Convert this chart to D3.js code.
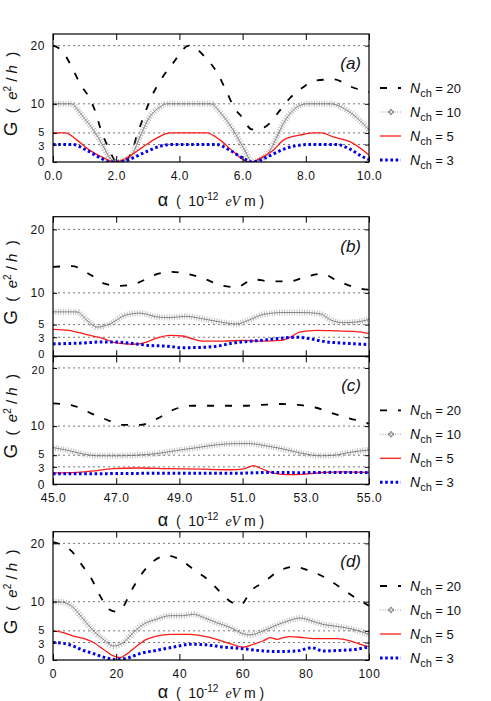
<!DOCTYPE html>
<html lang="en">
<head>
<meta charset="UTF-8">
<title>Conductance G versus alpha</title>
<script src="https://d3js.org/d3.v7.min.js"></script>
<style>
  body { margin: 0; background: #fff; }
  svg text { font-family: "Liberation Sans", Arial, sans-serif; fill: #111; white-space: pre; }
</style>
</head>
<body>
<div id="chart"></div>
<script>
// ---- data: [alpha, G] pairs per panel and per N_ch ----
const aN20 = [[0,20],[0.3,19],[0.55,16.8],[0.85,13.5],[1.2,10.5],[1.35,8.5],[1.5,5.8],[1.75,2.5],[2.0,0.2],[2.3,0.4],[2.5,1.8],[2.65,4.5],[2.85,7.5],[3.1,11],[3.4,14],[3.8,17],[4.3,20],[4.85,17.8],[5.2,15.3],[5.5,12],[5.75,9.2],[5.95,7.9],[6.3,5.6],[6.7,6],[7.2,9],[7.5,11],[7.9,12.8],[8.3,14],[8.9,14.2],[9.4,13],[10,12]];
const aN10 = [[0,10],[0.6,10],[0.75,9.2],[0.95,7.8],[1.28,5.5],[1.6,2.6],[1.8,0.7],[2.05,0],[2.3,0.3],[2.53,1.5],[2.75,4.3],[3.0,7.2],[3.4,9.5],[3.6,10],[5.0,10],[5.28,8.6],[5.7,5.5],[6.07,2],[6.3,0],[6.55,0.4],[6.87,2],[7.08,4.3],[7.3,6.7],[7.6,8.9],[8.03,10],[8.77,10],[9.3,8.9],[9.7,7.2],[10,5.5]];
const aN5 = [[0,5],[0.4,5],[0.75,3.8],[1.17,2],[1.6,0.7],[1.95,0],[2.33,0.7],[2.85,2.6],[3.28,4.1],[3.7,5],[4.86,5],[5.28,3.8],[5.7,1.8],[6.13,0.1],[6.3,0],[6.5,0.5],[6.97,2],[7.3,3.8],[7.8,4.6],[8.24,5],[8.5,5],[8.87,4.3],[9.4,3.5],[10,1.2]];
const aN3 = [[0,3],[0.63,3],[1.07,2],[1.5,0.7],[1.8,0],[2.1,0],[2.53,0.7],[2.96,1.8],[3.38,2.7],[3.7,3],[5.18,3],[5.6,2],[6.0,0.7],[6.3,0],[6.5,0.2],[6.87,1.1],[7.3,2.2],[7.7,2.8],[8.1,3],[8.98,3],[9.4,2.2],[9.8,0.9],[10,0.4]];

const bN20 = [[45,14.1],[45.6,14.2],[46.2,12.8],[46.6,11.5],[47.1,11.1],[47.7,11.6],[48.2,12.8],[48.75,13.3],[49.25,13.0],[49.8,12.2],[50.3,11.2],[50.8,10.9],[51.35,12.1],[51.9,11.8],[52.45,11.8],[53.0,12.5],[53.5,13.0],[54.0,11.9],[54.6,10.8],[55,10.5]];
const bN10 = [[45,7.0],[45.75,7.0],[46.07,5.7],[46.4,4.6],[46.8,5.1],[47.3,6.5],[47.75,6.8],[48.3,6.2],[48.7,6.1],[49.2,6.3],[49.75,5.9],[50.3,5.4],[50.8,5.1],[51.2,5.7],[51.65,6.6],[52.3,6.9],[52.9,6.9],[53.45,6.7],[53.8,5.7],[54.2,5.3],[54.6,5.4],[55,5.8]];
const bN5 = [[45,4.25],[45.5,4.1],[46.07,3.4],[46.6,2.8],[47.0,2.1],[47.55,1.9],[47.96,2.25],[48.3,2.9],[48.7,3.3],[49.1,3.2],[49.45,2.7],[49.75,2.4],[50.4,2.4],[51.0,2.5],[51.65,2.4],[52.2,2.5],[52.5,3.0],[52.8,3.8],[53.35,4.1],[54.0,4.0],[54.6,3.9],[55,3.6]];
const bN3 = [[45,1.95],[45.96,2.1],[46.5,2.25],[47.0,2.25],[47.55,2.0],[48.07,1.7],[48.6,1.6],[49.1,1.35],[49.65,1.4],[50.2,1.6],[50.7,2.1],[51.2,2.35],[51.75,2.6],[52.3,2.9],[52.7,3.0],[53.1,2.8],[53.55,2.35],[54.1,2.1],[54.6,1.95],[55,1.85]];

const cN20 = [[45,13.9],[45.65,13.5],[46.2,12.2],[46.7,11.1],[47.2,10.2],[47.75,10.2],[48.3,11.3],[48.85,12.9],[49.4,13.5],[49.95,13.5],[50.5,13.5],[51.05,13.5],[51.6,13.65],[52.2,13.8],[52.75,13.65],[53.3,13.2],[53.85,12.2],[54.4,11.3],[54.9,10.6],[55,10.4]];
const cN10 = [[45,6.3],[45.5,5.8],[45.96,5.2],[46.4,4.9],[47.0,4.9],[47.65,5.0],[48.3,5.3],[48.9,5.8],[49.55,6.3],[50.2,6.8],[50.8,7.0],[51.2,7.0],[51.75,6.6],[52.3,6.05],[52.9,5.3],[53.45,4.9],[53.9,5.0],[54.4,5.5],[55,5.9]];
const cN5 = [[45,1.95],[45.75,2.05],[46.3,2.3],[46.9,2.7],[47.65,2.8],[48.6,2.7],[49.65,2.6],[50.6,2.5],[51.0,2.6],[51.35,3.2],[51.55,2.8],[51.9,2.05],[52.4,1.65],[52.95,1.75],[53.6,2.05],[54.2,2.15],[55,2.05]];
const cN3 = [[45,1.8],[46.0,1.8],[47.0,1.85],[48.0,1.88],[49.0,1.88],[50.0,1.9],[51.0,1.92],[51.9,2.05],[52.8,2.0],[53.8,2.05],[55,2.0]];

const dN20 = [[0,20.2],[5.8,18.7],[9.0,16.4],[12.3,13.8],[14.9,11.0],[17.7,8.7],[19.8,8.3],[21.9,8.9],[25,12.1],[28.1,14.8],[31.9,17.0],[36.2,17.9],[40.8,17.0],[45,15.3],[48.8,13.9],[52.3,12.0],[55.5,10.3],[59.2,9.4],[62.9,12],[66.6,13.3],[71.3,15.2],[76.4,16.0],[81.1,15.3],[86.6,14],[91,12.4],[95.6,10.7],[98.2,9.9],[100,9.3]];
const dN10 = [[0,10.0],[3.3,9.9],[6.4,9.0],[9.6,7.0],[12.8,5.0],[15.9,3.55],[19.1,2.4],[22.3,3.0],[25.4,4.7],[28.6,6.1],[32.8,7.0],[37.0,7.6],[41.2,7.6],[44.4,7.85],[47.6,7.3],[51.8,6.4],[56.0,5.6],[60.2,4.5],[62.3,4.3],[66.6,5.0],[70.8,6.0],[75.0,6.8],[78.2,7.2],[81.3,6.8],[85.5,6.1],[88.7,5.85],[91.9,5.6],[96.1,5.1],[100,4.4]];
const dN5 = [[0,5.0],[3.3,4.7],[6.4,4.1],[9.6,3.7],[12.8,3.0],[15.9,1.85],[19.1,0.7],[21.2,0.4],[23.3,1.0],[26.5,2.4],[29.6,3.55],[32.8,4.1],[37.0,4.4],[43.4,4.4],[47.6,4.1],[51.8,3.55],[56.0,2.8],[60.2,2.2],[63.4,2.7],[66.6,3.3],[68.7,3.85],[70.8,3.55],[72.9,3.85],[75.0,4.0],[79.2,3.85],[83.4,3.65],[89.8,3.65],[94.0,3.3],[97.2,2.7],[100,2.3]];
const dN3 = [[0,3.0],[3.3,2.85],[6.4,2.4],[9.6,1.65],[12.8,1.1],[15.9,0.5],[20.1,0.1],[23.3,0.3],[27.5,1.1],[32.8,1.65],[38.1,2.2],[43.4,2.7],[48.6,2.6],[54.0,2.2],[59.2,2.0],[64.5,1.65],[70.8,1.45],[77.1,1.55],[81.9,2.1],[85.5,1.55],[90.8,1.65],[96.1,1.85],[100,2.25]];

const channelCounts = [20, 10, 5, 3];
const yTicks = [0, 3, 5, 10, 20];
const gridLevels = [3, 5, 10, 20];
const xTicksA = [0, 2, 4, 6, 8, 10];
const xTicksBC = [45, 47, 49, 51, 53, 55];
const xTicksD = [0, 20, 40, 60, 80, 100];

// ---- layout ----
const W = 491, H = 701;
const left = 53, right = 369;

const panels = [
  {name: "(a)", top: 34, bottom: 162, domain: [0, 10], ticks: xTicksA, fmt: d3.format(".1f"), xLabelAt: 39, legend: true, data: [aN20, aN10, aN5, aN3]},
  {name: "(b)", top: 216.7, bottom: 356.3, domain: [45, 55], ticks: xTicksBC, fmt: null, xLabelAt: null, legend: false, data: [bN20, bN10, bN5, bN3]},
  {name: "(c)", top: 356.3, bottom: 484.3, domain: [45, 55], ticks: xTicksBC, fmt: d3.format(".1f"), xLabelAt: 37, legend: true, data: [cN20, cN10, cN5, cN3]},
  {name: "(d)", top: 531.7, bottom: 660, domain: [0, 100], ticks: xTicksD, fmt: d3.format("d"), xLabelAt: 33, legend: true, data: [dN20, dN10, dN5, dN3]}
];

const styles = [
  {stroke: "#000", width: 1.8, dash: "7 11"},
  {stroke: "#6a6a6a", width: 0.8, dash: null, cross: true},
  {stroke: "#ff1a1a", width: 1.3, dash: null},
  {stroke: "#0000f0", width: 3, dash: "2.6 2.6"}
];

const svg = d3.select("#chart").append("svg")
    .attr("width", W).attr("height", H);

panels.forEach((p, pi) => {
  const x = d3.scaleLinear().domain(p.domain).range([left, right]);
  const y = d3.scaleLinear().domain([0, 22]).range([p.bottom, p.top]);
  const g = svg.append("g");

  // clip for the curves
  const clipId = "clip" + pi;
  svg.append("clipPath").attr("id", clipId).append("rect")
     .attr("x", left).attr("y", p.top).attr("width", right - left).attr("height", p.bottom - p.top);

  // dotted horizontal grid
  g.selectAll(".grid").data(gridLevels).enter().append("line")
    .attr("x1", left).attr("x2", right)
    .attr("y1", d => y(d)).attr("y2", d => y(d))
    .attr("stroke", "#555").attr("stroke-width", 0.8).attr("stroke-dasharray", "2 3");

  // curves
  const line = d3.line().x(d => x(d[0])).y(d => y(d[1])).curve(d3.curveMonotoneX);
  const lines = g.append("g").attr("clip-path", `url(#${clipId})`);
  p.data.forEach((series, si) => {
    const s = styles[si];
    if (s.cross) {
      // crosses drawn as short perpendicular ticks along the curve
      lines.append("path").datum(series).attr("d", line)
        .attr("fill", "none").attr("stroke", "#999").attr("stroke-opacity", 0.75)
        .attr("stroke-width", 6).attr("stroke-dasharray", "0.8 1.7");
    }
    lines.append("path").datum(series).attr("d", line)
      .attr("fill", "none").attr("stroke", s.stroke).attr("stroke-width", s.width)
      .attr("stroke-dasharray", s.dash);
  });

  // axes with inward ticks
  const bottomAxis = d3.axisBottom(x).tickValues(p.ticks).tickSize(-6).tickPadding(9)
      .tickFormat(p.fmt ? p.fmt : "");
  const topAxis = d3.axisTop(x).tickValues(p.ticks).tickSize(-6).tickFormat("");
  const leftAxis = d3.axisLeft(y).tickValues(yTicks).tickSize(-4).tickPadding(8);
  const rightAxis = d3.axisRight(y).tickValues(yTicks).tickSize(-4).tickFormat("");

  let yAxisG = null;
  [[bottomAxis, `translate(0,${p.bottom})`], [topAxis, `translate(0,${p.top})`],
   [leftAxis, `translate(${left},0)`], [rightAxis, `translate(${right},0)`]].forEach(([ax, tr], k) => {
    const a = g.append("g").attr("transform", tr).call(ax);
    a.select(".domain").remove();
    a.selectAll("line").attr("stroke", "#000").attr("stroke-width", 1);
    a.selectAll("text").attr("font-size", 12).attr("letter-spacing", 0.6)
      .attr("font-family", "Liberation Sans, Arial, sans-serif").attr("fill", "#111");
    if (k === 2) yAxisG = a;
  });
  // the 3 and 5 labels sit very close; pull them slightly apart
  yAxisG.selectAll("text").filter(d => d === 5).attr("font-size", 11).attr("dy", "0.25em");
  yAxisG.selectAll("text").filter(d => d === 3).attr("font-size", 11).attr("dy", "0.42em");
  // (b) and (c) share a border: keep the 0 of (b) and the 20 of (c) apart
  if (p.name === "(b)") yAxisG.selectAll("text").filter(d => d === 0).attr("font-size", 11).attr("dy", "0.15em");
  if (p.name === "(c)") yAxisG.selectAll("text").filter(d => d === 20).attr("font-size", 11).attr("dy", "0.5em");

  // frame
  g.append("rect").attr("x", left).attr("y", p.top)
    .attr("width", right - left).attr("height", p.bottom - p.top)
    .attr("fill", "none").attr("stroke", "#000").attr("stroke-width", 1.2);

  // panel tag
  g.append("text").attr("x", 361).attr("y", p.top + 35)
    .attr("text-anchor", "end").attr("font-size", 17).attr("font-style", "italic")
    .text(p.name);

  // y label
  const yl = g.append("text")
    .attr("transform", `translate(17,${(p.top + p.bottom) / 2 - 4}) rotate(-90)`)
    .attr("text-anchor", "middle");
  yl.append("tspan").attr("font-size", 19).text("G");
  yl.append("tspan").attr("font-size", 15).text("  (  ");
  yl.append("tspan").attr("font-size", 15).attr("font-style", "italic").text("e");
  yl.append("tspan").attr("font-size", 10).attr("dy", -6).text("2");
  yl.append("tspan").attr("font-size", 15).attr("dy", 6).text(" / ");
  yl.append("tspan").attr("font-size", 15).attr("font-style", "italic").text("h");
  yl.append("tspan").attr("font-size", 15).text("  )");

  // x label
  if (p.xLabelAt) {
    const xl = g.append("text").attr("x", (left + right) / 2).attr("y", p.bottom + p.xLabelAt + 5)
      .attr("text-anchor", "middle");
    xl.append("tspan").attr("font-size", 18).text("α");
    xl.append("tspan").attr("font-size", 14).text("  (  10");
    xl.append("tspan").attr("font-size", 10).attr("dy", -6).text("-12");
    xl.append("tspan").attr("font-size", 14).attr("dy", 6)
      .attr("font-family", "Liberation Serif, serif").attr("font-style", "italic").text("  eV");
    xl.append("tspan").attr("font-size", 14).text(" m )");
  }

  // legend
  if (p.legend) {
    const rows = [-74, -50, -26, -2];
    channelCounts.forEach((n, i) => {
      const ly = p.bottom + rows[i];
      const s = styles[i];
      const lg = g.append("g");
      lg.append("line").attr("x1", 380).attr("x2", 401).attr("y1", ly).attr("y2", ly)
        .attr("stroke", s.cross ? "#888" : s.stroke)
        .attr("stroke-width", s.cross ? 0.8 : s.width)
        .attr("stroke-dasharray", s.cross ? "1 1.5" : s.dash);
      if (s.cross) {
        lg.append("path").attr("d", d3.symbol(d3.symbolCross, 14)())
          .attr("transform", `translate(391,${ly})`)
          .attr("fill", "none").attr("stroke", "#666").attr("stroke-width", 0.8);
      }
      const t = lg.append("text").attr("x", 410).attr("y", ly + 5);
      t.append("tspan").attr("font-size", 14).attr("font-style", "italic").text("N");
      t.append("tspan").attr("font-size", 11).attr("dy", 4).text("ch");
      t.append("tspan").attr("font-size", 13).attr("dy", -4).text(" = " + n);
    });
  }
});
</script>
</body>
</html>
